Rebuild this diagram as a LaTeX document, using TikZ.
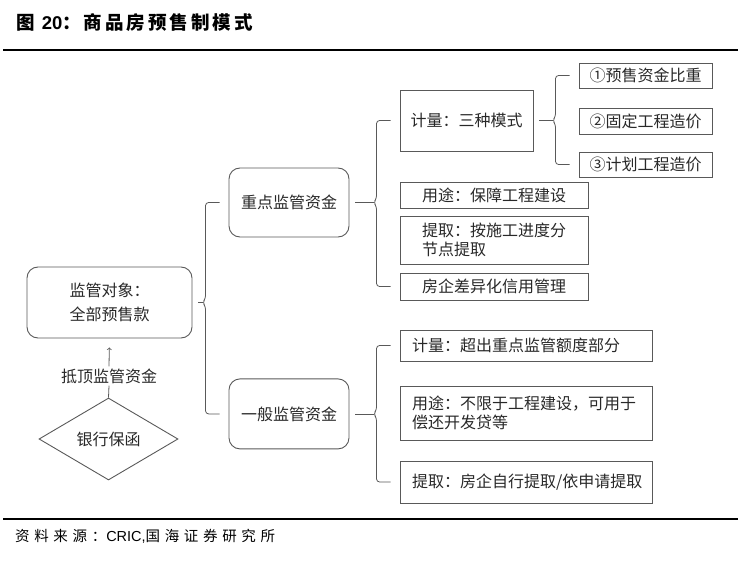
\documentclass[tikz,border=0pt]{standalone}
\usepackage{fontspec}
\setmainfont{Noto Sans CJK SC}
\newfontfamily\latinfont{Liberation Sans}
\usetikzlibrary{arrows, shapes.geometric, positioning}
\definecolor{edgegray}{RGB}{89,89,89}
\definecolor{txtgray}{RGB}{40,40,40}
\tikzset{
  rbox/.style={draw=edgegray, line width=0.9pt, rounded corners=11pt, text=txtgray,
    font=\fontsize{16}{24}\selectfont, align=left, inner sep=0pt},
  sbox/.style={draw=edgegray, line width=0.9pt, text=txtgray,
    font=\fontsize{16}{19}\selectfont, align=left, inner sep=0pt},
  link/.style={draw=edgegray, line width=0.8pt},
}
% brace from a parent node to its first and last child
\newcommand{\fork}[3]{%
  \path ([xshift=-23pt]#2.west) coordinate (#1-t)
        ([xshift=-23pt]#3.west) coordinate (#1-b)
        (#1-t |- #1.east) coordinate (#1-m);
  \draw[link] ([xshift=6pt]#1.east) -- ([xshift=-3pt]#1-m);
  \draw[link, rounded corners=3pt] ([xshift=-9pt]#2.west) -- (#1-t) -- ([yshift=4pt]#1-m)
    -- ([xshift=-3pt]#1-m) -- ([yshift=-4pt]#1-m) -- (#1-b) -- ([xshift=-9pt]#3.west);
}

\begin{document}
\begin{tikzpicture}[x=1pt, y=-1pt]
    \useasboundingbox (0,0) rectangle (741,564);
    \node[anchor=west, inner sep=0pt, font=\bfseries\fontsize{18.5}{20}\selectfont] (title) at (16,23)
      {\addfontfeatures{LetterSpace=16}图 {\latinfont\bfseries 20}：商品房预售制模式};
    \draw[line width=1.2pt] (3,50) -- (738,50);
    \draw[line width=1.2pt] (3,519) -- (738,519);
    \node[anchor=west, inner sep=0pt, font=\fontsize{14.5}{16}\selectfont] (source) at (15,536)
      {\addfontfeatures{LetterSpace=32}资料来源：{\latinfont CRIC,}国海证券研究所};

    \node[rbox, minimum width=165pt, minimum height=71pt] (obj) at (109.5,302.5) {监管对象：\\全部预售款};
    \node[text=txtgray, font=\fontsize{16}{19}\selectfont, inner sep=2pt] (offset) at (109,376) {抵顶监管资金};
    \node[diamond, draw=edgegray, line width=0.9pt, aspect=1.7, inner sep=0pt,
      minimum width=139pt, minimum height=82pt, text=txtgray,
      font=\fontsize{16}{19}\selectfont] (bank) at (108.5,439) {银行保函};
    \draw[link] (bank.north) -- (offset.south);
    \draw[link, ->, shorten >=9pt] (offset.north) -- (obj.south);

    \node[rbox, minimum width=120pt, minimum height=69pt] (key) at (289,202.5) {重点监管资金};
    \node[rbox, minimum width=120pt, minimum height=70pt, below=141pt of key] (gen) {一般监管资金};

    \node[sbox, minimum width=133pt, minimum height=61pt] (k1) at (466.5,120.5) {计量：三种模式};
    \node[sbox, minimum width=188pt, minimum height=26pt] (k2) at (494,195) {用途：保障工程建设};
    \node[sbox, minimum width=188pt, minimum height=48pt] (k3) at (494,240) {提取：按施工进度分\\节点提取};
    \node[sbox, minimum width=188pt, minimum height=27pt] (k4) at (494,286.5) {房企差异化信用管理};

    \node[sbox, minimum width=133pt, minimum height=25pt] (m1) at (645.5,75.5) {①预售资金比重};
    \node[sbox, minimum width=133pt, minimum height=26pt] (m2) at (645.5,121) {②固定工程造价};
    \node[sbox, minimum width=133pt, minimum height=25pt] (m3) at (645.5,164.5) {③计划工程造价};

    \node[sbox, text width=228pt, inner xsep=12pt, minimum height=31pt] (g1) at (526,345.5) {计量：超出重点监管额度部分};
    \node[sbox, text width=228pt, inner xsep=12pt, minimum height=54pt] (g2) at (526,413) {用途：不限于工程建设，可用于\\偿还开发贷等};
    \node[sbox, text width=228pt, inner xsep=12pt, minimum height=42pt] (g3) at (526,482) {提取：房企自行提取/依申请提取};

    \fork{obj}{key}{gen}
    \fork{key}{k1}{k4}
    \fork{k1}{m1}{m3}
    \fork{gen}{g1}{g3}
\end{tikzpicture}
\end{document}
